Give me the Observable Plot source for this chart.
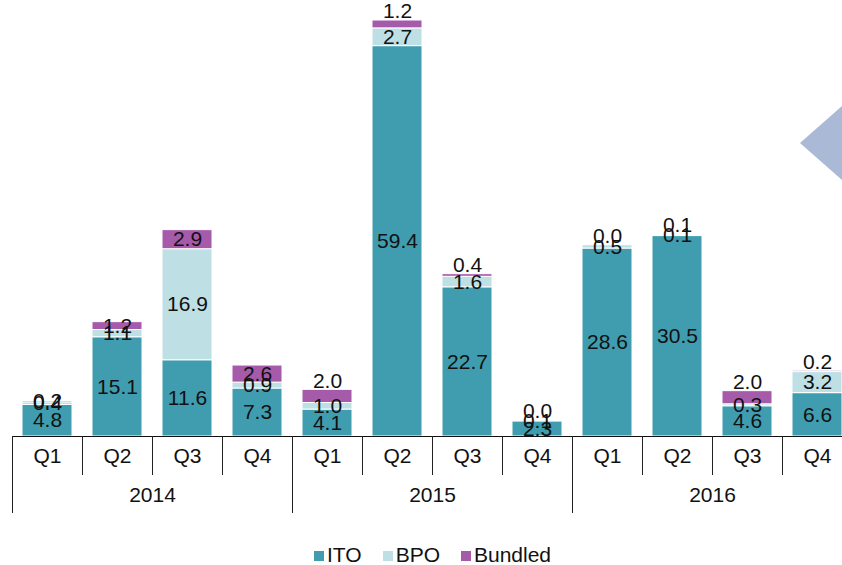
<!DOCTYPE html>
<html>
<head>
<meta charset="utf-8">
<script src="https://cdn.jsdelivr.net/npm/d3@7"></script>
<script src="https://cdn.jsdelivr.net/npm/@observablehq/plot@0.6"></script>
<style>
  html, body { margin: 0; padding: 0; background: #fff; overflow: hidden; width: 842px; height: 565px; }
  #wrap { position: relative; width: 842px; height: 565px; font-family: "Liberation Sans", Arial, sans-serif; }
  #chart { position: absolute; left: 0; top: 0; }
  #deco { position: absolute; left: 0; top: 0; pointer-events: none; }
  #legend { position: absolute; left: 314px; top: 544px; display: flex; align-items: center; font-size: 21px; color: #111; line-height: 22px; }
  #legend .item { display: flex; align-items: center; margin-right: 21px; }
  #legend .sw { width: 10px; height: 10px; margin-right: 3px; margin-top: 1px; }
</style>
</head>
<body>
<div id="wrap">
  <div id="chart"></div>
  <svg id="deco" width="842" height="565"><polygon points="800,143 850,99 850,187" fill="#a9b9d6"/></svg>
  <div id="legend"></div>
</div>
<script>
// ---- data ----
const years = ["2014", "2015", "2016"];
const quarters = ["Q1", "Q2", "Q3", "Q4"];
const seriesNames = ["ITO", "BPO", "Bundled"];
const seriesColors = ["#409daf", "#bedfe4", "#a65aaa"];
const ito     = [4.8, 15.1, 11.6, 7.3, 4.1, 59.4, 22.7, 2.3, 28.6, 30.5, 4.6, 6.6];
const bpo     = [0.4, 1.1, 16.9, 0.9, 1.0, 2.7, 1.6, 0.1, 0.5, 0.1, 0.3, 3.2];
const bundled = [0.2, 1.2, 2.9, 2.6, 2.0, 1.2, 0.4, 0.0, 0.0, 0.1, 2.0, 0.2];

// ---- table ----
const keys = [];
years.forEach(y => quarters.forEach(q => keys.push(`${y} ${q}`)));
const valuesBySeries = [ito, bpo, bundled];
const rows = [];
keys.forEach((k, i) => {
  let base = 0;
  seriesNames.forEach((s, j) => {
    const v = valuesBySeries[j][i];
    rows.push({key: k, year: k.split(" ")[0], series: s, value: v, y1: base, y2: base + v, mid: base + v / 2});
    base += v;
  });
});
const totals = keys.map((k, i) => ito[i] + bpo[i] + bundled[i]);

const x0 = 12, x1 = 852;
const step = (x1 - x0) / keys.length;
const aboveLabel = d => d.series === "Bundled" && d.year !== "2014";
const FS = 21;

const chart = Plot.plot({
  width: 842,
  height: 530,
  marginTop: 20,
  marginBottom: 94,
  marginLeft: 12,
  marginRight: 0,
  x: {domain: keys, range: [x0, x1], paddingInner: 20 / 70, paddingOuter: 10 / 70, axis: null},
  y: {domain: [0, d3.max(totals)], axis: null},
  color: {domain: seriesNames, range: seriesColors},
  style: {fontFamily: "'Liberation Sans', Arial, sans-serif", fontSize: FS + "px", background: "transparent", overflow: "visible"},
  marks: [
    Plot.barY(rows, {x: "key", y1: "y1", y2: "y2", fill: "series", stroke: "white", strokeWidth: 1}),
    Plot.text(rows.filter(d => !aboveLabel(d)), {x: "key", y: "mid", text: d => d.value.toFixed(1), fill: "#111", fontSize: FS}),
    Plot.text(rows.filter(aboveLabel), {x: "key", y: "y2", text: d => d.value.toFixed(1), fill: "#111", fontSize: FS, dy: -9}),
    Plot.ruleY([0], {stroke: "#111", strokeWidth: 1}),
    Plot.ruleX(keys.filter(k => !k.endsWith("Q1")), {x: d => d, dx: -step / 2, insetTop: 416, insetBottom: -39, stroke: "#222", strokeWidth: 1}),
    Plot.ruleX(keys.filter(k => k.endsWith("Q1")), {x: d => d, dx: -step / 2, insetTop: 416, insetBottom: -77, stroke: "#222", strokeWidth: 1}),
    Plot.text(keys, {x: d => d, text: d => d.split(" ")[1], frameAnchor: "bottom", dy: 26, fill: "#111", fontSize: FS}),
    Plot.text(years, {x: y => `${y} Q3`, text: y => y, frameAnchor: "bottom", dx: -step / 2, dy: 65, fill: "#111", fontSize: FS})
  ]
});
document.getElementById("chart").appendChild(chart);

// ---- legend ----
const legend = document.getElementById("legend");
seriesNames.forEach((s, i) => {
  const item = document.createElement("div");
  item.className = "item";
  const sw = document.createElement("div");
  sw.className = "sw";
  sw.style.background = seriesColors[i];
  const t = document.createElement("span");
  t.textContent = s;
  item.appendChild(sw);
  item.appendChild(t);
  legend.appendChild(item);
});
</script>
</body>
</html>
